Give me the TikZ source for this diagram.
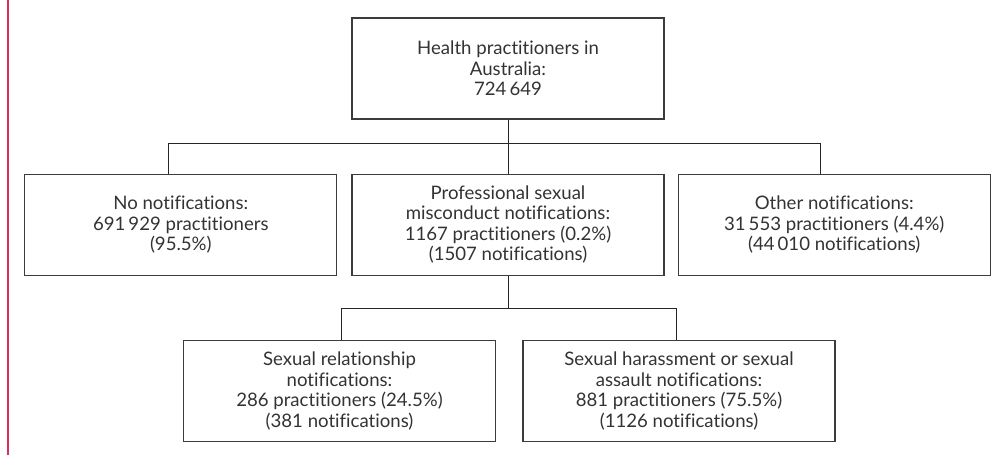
\documentclass[tikz,border=0pt]{standalone}
\usepackage{fontspec}
\setmainfont{Lato}[Ligatures=NoCommon]
\usepackage{xcolor}
\usetikzlibrary{positioning}
\definecolor{mjared}{RGB}{214,45,90}
\definecolor{boxgray}{RGB}{60,60,60}
\tikzstyle{box} = [draw=boxgray, line width=1.2pt, rectangle, minimum width=312pt, minimum height=101pt, align=center, font=\fontsize{18.6}{20.5}\selectfont, text=black!80]
\tikzstyle{link} = [draw=black!85, line width=0.9pt]

\begin{document}
\begin{tikzpicture}[x=1pt, y=-1pt]
	\useasboundingbox (0,0) rectangle (992,456);
	\draw[mjared, line width=1.5pt] (8,0) -- (8,455);

	\node [box] (total) at (508,68.5) {Health practitioners in\\Australia:\\724\,649};
	\node [box, below=54pt of total] (psm) {Professional sexual\\misconduct notifications:\\1167 practitioners (0.2\%)\\(1507 notifications)};
	\node [box, left=14pt of psm] (none) {No notifications:\\691\,929 practitioners\\(95.5\%)};
	\node [box, right=13pt of psm] (other) {Other notifications:\\31\,553 practitioners (4.4\%)\\(44\,010 notifications)};
	\node [box, below=64pt of psm, xshift=-168.5pt] (rel) {Sexual relationship\\notifications:\\286 practitioners (24.5\%)\\(381 notifications)};
	\node [box, below=64pt of psm, xshift=171pt] (hass) {Sexual harassment or sexual\\assault notifications:\\881 practitioners (75.5\%)\\(1126 notifications)};

	\coordinate [below=24pt of total] (bus1);
	\coordinate [below=33pt of psm] (bus2);

	\draw [link] (total) -- (bus1);
	\draw [link] ([xshift=-12pt]none.north) |- (bus1) -| ([xshift=-14pt]other.north);
	\draw [link] (bus1) -- (psm);
	\draw [link] (psm) -- (bus2);
	\draw [link] ([xshift=1.5pt]rel.north) |- (bus2) -| ([xshift=-3pt]hass.north);
\end{tikzpicture}
\end{document}
